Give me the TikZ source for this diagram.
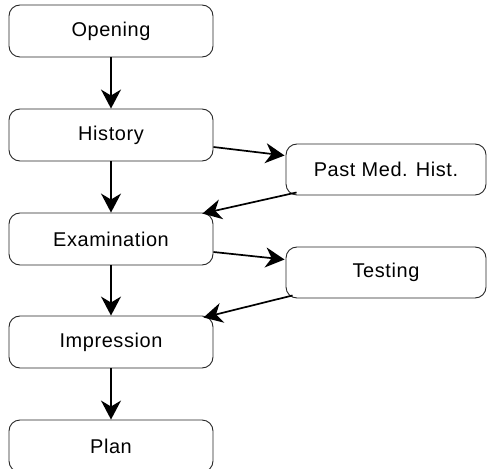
\documentclass[tikz,border=0pt]{standalone}
\usepackage{fontspec}
\setmainfont[LetterSpace=3]{Liberation Sans}
\usetikzlibrary{arrows.meta}
\begin{document}
\begin{tikzpicture}[x=1bp,y=-1bp,
  box/.style={draw=black!85, line width=0.9bp, rounded corners=11bp, inner sep=0pt,
    minimum width=204bp, minimum height=52bp, font=\fontsize{20}{24}\selectfont},
  rbox/.style={box, minimum width=200bp, minimum height=51bp},
  arr/.style={line width=1.7bp, -{Stealth[length=19bp,width=20bp,inset=6bp]}}]
\useasboundingbox (0,0) rectangle (487,469);
\node[box] (open) at (111,31) {Opening};
\node[box] (hist) at (111,135) {History};
\node[box] (exam) at (111,239) {Examination};
\node[box] (impr) at (111,342) {Impression};
\node[box] (plan) at (111,446) {Plan};
\node[rbox] (pmh) at (386,169.5) {Past Med. Hist.};
\node[rbox] (test) at (386,272.5) {Testing};
\draw[arr] (open) -- (hist);
\draw[arr] (hist) -- (exam);
\draw[arr] (exam) -- (impr);
\draw[arr] (impr) -- (plan);
\draw[arr] ([yshift=-12bp]hist.east) -- ([yshift=14bp,xshift=-1bp]pmh.west);
\draw[arr] ([xshift=11bp,yshift=3bp]pmh.south west) -- ([xshift=-11bp,yshift=-1bp]exam.north east);
\draw[arr] ([yshift=-13bp]exam.east) -- ([yshift=13bp,xshift=-1bp]test.west);
\draw[arr] ([xshift=7bp,yshift=3bp]test.south west) -- ([xshift=-10bp,yshift=-2bp]impr.north east);
\end{tikzpicture}
\end{document}
